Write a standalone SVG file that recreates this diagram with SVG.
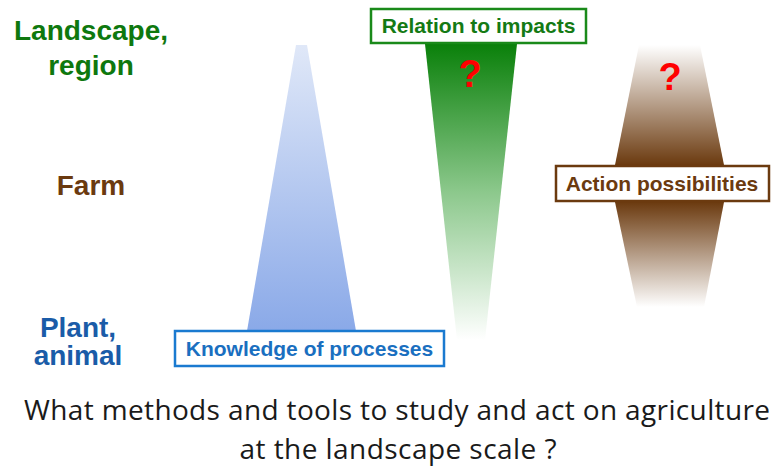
<svg xmlns="http://www.w3.org/2000/svg" width="783" height="471" viewBox="0 0 783 471">
<style>
.lbl{font-family:"Liberation Sans",Arial,sans-serif;font-weight:bold;font-size:28px;text-anchor:middle}
.box{fill:#fff;stroke-width:2.5}
.boxt{font-family:"Liberation Sans",Arial,sans-serif;font-weight:bold;font-size:21px;text-anchor:middle}
.q{font-family:"Liberation Sans",Arial,sans-serif;font-weight:bold;font-size:38px;fill:#ff0000;text-anchor:middle}
.cap{font-family:"Open Sans","Noto Sans",sans-serif;font-size:28px;fill:#1a1a1a;text-anchor:middle}
</style>
<defs>
<linearGradient id="gBlue" x1="0" y1="0" x2="0" y2="1">
<stop offset="0" stop-color="#e0e8f8"/>
<stop offset="1" stop-color="#8aa9e8"/>
</linearGradient>
<linearGradient id="gGreen" x1="0" y1="0" x2="0" y2="1">
<stop offset="0" stop-color="#0a800a"/>
<stop offset="0.5" stop-color="#8cc88c"/>
<stop offset="1" stop-color="#ffffff"/>
</linearGradient>
<linearGradient id="gBrownTop" x1="0" y1="0" x2="0" y2="1">
<stop offset="0" stop-color="#ffffff"/>
<stop offset="1" stop-color="#6b3a0f"/>
</linearGradient>
<linearGradient id="gBrownBot" x1="0" y1="0" x2="0" y2="1">
<stop offset="0" stop-color="#6b3a0f"/>
<stop offset="1" stop-color="#ffffff"/>
</linearGradient>
</defs>
<rect width="783" height="471" fill="#fff"/>

<g id="scale-labels">
<text class="lbl" x="91" y="40" fill="#0e780e">Landscape,</text>
<text class="lbl" x="91" y="75" fill="#0e780e">region</text>
<text class="lbl" x="91" y="195" fill="#6b3a0f">Farm</text>
<text class="lbl" x="78" y="337" fill="#1a5ca8">Plant,</text>
<text class="lbl" x="78" y="365" fill="#1a5ca8">animal</text>
</g>

<g id="knowledge">
<polygon points="296,45 307,45 356,331 247,331" fill="url(#gBlue)"/>
<rect class="box" x="175" y="331" width="269" height="35" stroke="#1a7ad0"/>
<text class="boxt" x="309.5" y="356" fill="#1a6fc0">Knowledge of processes</text>
</g>

<g id="impacts">
<polygon points="425,44 517,44 485,340 457,340" fill="url(#gGreen)"/>
<rect class="box" x="371" y="9" width="215" height="34" stroke="#1a8a1a"/>
<text class="boxt" x="478.5" y="33" fill="#147a14">Relation to impacts</text>
<text class="q" x="470" y="87">?</text>
</g>

<g id="action">
<polygon points="639,45 700,45 724,165 615,165" fill="url(#gBrownTop)"/>
<polygon points="615,202 724,202 704,307 637,307" fill="url(#gBrownBot)"/>
<rect class="box" x="556" y="166" width="213" height="35" stroke="#6b3a0f"/>
<text class="boxt" x="662" y="191" fill="#6b3a0f">Action possibilities</text>
<text class="q" x="670" y="90">?</text>
</g>

<g id="question">
<text class="cap" x="397" y="420" textLength="746">What methods and tools to study and act on agriculture</text>
<text class="cap" x="398" y="459" textLength="317">at the landscape scale ?</text>
</g>
</svg>
